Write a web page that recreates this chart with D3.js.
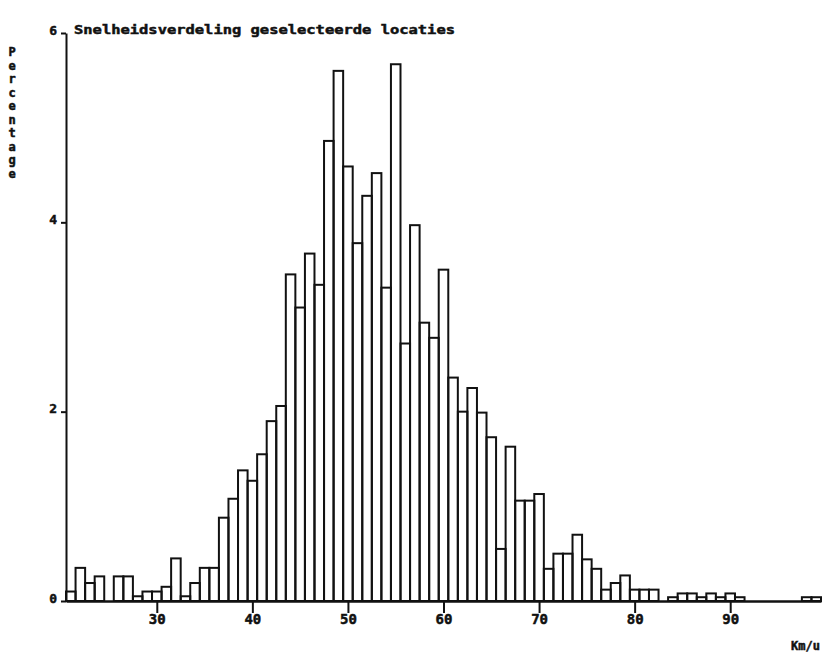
<!DOCTYPE html>
<html>
<head>
<meta charset="utf-8">
<script src="https://cdn.jsdelivr.net/npm/d3@7/dist/d3.min.js"></script>
<style>
  body { margin: 0; background: #fff; }
  svg text { font-family: "DejaVu Sans Mono", "Liberation Mono", monospace; font-weight: bold; fill: #111; stroke: #111; stroke-width: 0.5px; }
</style>
</head>
<body>
<svg id="chart" width="827" height="653"></svg>
<script>
// snelheidsklassen (km/u, midden van de klasse)
var speeds = d3.range(21, 100);
// percentage per klasse
var percentages = [
  0.10, 0.35, 0.19, 0.26, 0.00, 0.26, 0.26, 0.05, 0.10, 0.10,   // 21-30
  0.15, 0.45, 0.05, 0.19, 0.35, 0.35, 0.88, 1.08, 1.38, 1.27,   // 31-40
  1.55, 1.90, 2.06, 3.45, 3.10, 3.67, 3.34, 4.86, 5.60, 4.59,   // 41-50
  3.78, 4.28, 4.52, 3.31, 5.67, 2.72, 3.97, 2.94, 2.78, 3.50,   // 51-60
  2.36, 2.00, 2.25, 1.99, 1.73, 0.55, 1.63, 1.06, 1.06, 1.13,   // 61-70
  0.34, 0.50, 0.50, 0.70, 0.44, 0.34, 0.12, 0.19, 0.27, 0.12,   // 71-80
  0.12, 0.12, 0.00, 0.04, 0.08, 0.08, 0.04, 0.08, 0.04, 0.08,   // 81-90
  0.04, 0.00, 0.00, 0.00, 0.00, 0.00, 0.00, 0.04, 0.04          // 91-99
];
var xTicks = [30, 40, 50, 60, 70, 80, 90];
var yTicks = [0, 2, 4, 6];
var title = "Snelheidsverdeling geselecteerde locaties";
var yLabel = "Percentage";
var xLabel = "Km/u";

var svg = d3.select("#chart");

var xScale = d3.scaleLinear().domain([20.5, 99.5]).range([66, 821]);
var yScale = d3.scaleLinear().domain([0, 6]).range([601, 33]);

var data = speeds.map((s, i) => ({ speed: s, pct: percentages[i] }));

//staven
svg.append("g")
  .selectAll("rect")
  .data(data.filter(d => d.pct > 0))
  .join("rect")
  .attr("x", d => xScale(d.speed - 0.5))
  .attr("y", d => yScale(d.pct))
  .attr("width", d => xScale(d.speed + 0.5) - xScale(d.speed - 0.5))
  .attr("height", d => yScale(0) - yScale(d.pct))
  .style("fill", "none")
  .style("stroke", "#111")
  .style("stroke-width", 2);

//x-as
var xAxis = d3.axisBottom(xScale).tickValues(xTicks).tickSize(12).tickSizeOuter(0).tickFormat(d3.format("d"));
var gx = svg.append("g").attr("transform", "translate(0," + yScale(0) + ")").call(xAxis);
gx.select(".domain").style("stroke", "#111").style("stroke-width", 2.5);
gx.selectAll(".tick line").style("stroke", "#111").style("stroke-width", 2);
gx.selectAll(".tick text").attr("y", 13).style("font-size", "14px");

//y-as
var yAxis = d3.axisLeft(yScale).tickValues(yTicks).tickSize(5).tickSizeOuter(0).tickFormat(d3.format("d"));
var gy = svg.append("g").attr("transform", "translate(" + xScale.range()[0] + ",0)").call(yAxis);
gy.select(".domain").style("stroke", "#111").style("stroke-width", 2);
gy.selectAll(".tick line").style("stroke", "#111").style("stroke-width", 2);
gy.selectAll(".tick text").attr("x", -9).attr("dy", "0.1em").style("font-size", "13px");

//titel
svg.append("text")
  .attr("x", 74)
  .attr("y", 34)
  .attr("textLength", 381)
  .attr("lengthAdjust", "spacingAndGlyphs")
  .style("font-size", "13px")
  .text(title);

//y-label, letters onder elkaar
svg.append("g")
  .selectAll("text")
  .data(yLabel.split(""))
  .join("text")
  .attr("x", 12)
  .attr("y", (d, i) => 56 + i * 13.5)
  .attr("text-anchor", "middle")
  .style("font-size", "12px")
  .text(d => d);

//x-label
svg.append("text")
  .attr("x", 820)
  .attr("y", 650)
  .attr("text-anchor", "end")
  .style("font-size", "12px")
  .text(xLabel);
</script>
</body>
</html>
